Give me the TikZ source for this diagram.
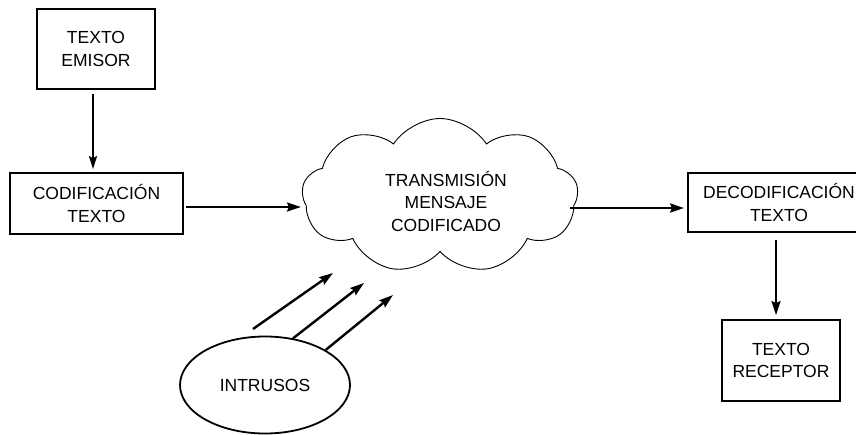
\documentclass[tikz,border=0pt]{standalone}
\usepackage{fontspec}
\setmainfont{Liberation Sans}
\usetikzlibrary{arrows.meta,shapes.geometric,shapes.symbols}
\begin{document}
\begin{tikzpicture}[x=1pt,y=-1pt,
  txt/.style={font=\fontsize{17.5}{22.5}\selectfont, align=center},
  boxnode/.style={txt, draw, line width=1.8pt, inner sep=0pt},
  arr/.style={line width=2.4pt, -{Stealth[length=14pt,width=9pt,inset=2pt]}},
  thinarr/.style={line width=1.7pt, -{Stealth[length=13pt,width=8pt,inset=2pt]}}]
\useasboundingbox (0,0) rectangle (856,434);
\clip (0,0) rectangle (856,434);
\node[boxnode, minimum width=118pt, minimum height=80pt] (emisor) at (96,49) {TEXTO\\EMISOR};
\node[boxnode, minimum width=173pt, minimum height=61pt] (cod) at (96.5,203.5) {CODIFICACIÓN\\TEXTO};
\node[draw, cloud, cloud puffs=9, cloud puff arc=115, cloud ignores aspect, line width=0.9pt,
      minimum width=276pt, minimum height=155pt, inner sep=0pt] (cloud) at (440,196) {};
\node[txt] (cloudtxt) at (446,201) {TRANSMISIÓN\\MENSAJE\\CODIFICADO};
\node[boxnode, minimum width=182pt, minimum height=59pt] (deco) at (779,202.5) {DECODIFICACIÓN\\TEXTO};
\node[boxnode, minimum width=118pt, minimum height=81pt] (recep) at (781,360.5) {TEXTO\\RECEPTOR};
\node[txt, draw, ellipse, line width=1.8pt, minimum width=170pt, minimum height=97pt, inner sep=0pt] (intr) at (265,385) {INTRUSOS};
\coordinate (a1s) at (253,329);
\coordinate (a1e) at (333,273);
\coordinate (a2e) at (364,283);
\coordinate (a3e) at (393,295);
% connectors
\draw[thinarr, shorten <=4pt, shorten >=3pt] ([xshift=-3pt]emisor.south) -- ([xshift=-3pt]emisor.south |- cod.north);
\draw[arr, shorten <=2pt, shorten >=1pt] ([yshift=-3.5pt]cod.east) -- ([yshift=-3.5pt]cod.east -| cloud.west);
\draw[arr, shorten >=3pt] ([yshift=-5.5pt]deco.west -| cloud.east) ++(-8pt,0) -- ([yshift=-5.5pt]deco.west);
\draw[arr, shorten <=7pt, shorten >=4pt] ([xshift=-3pt]deco.south) -- ([xshift=-3pt]deco.south |- recep.north);
\draw[arr] (a1s) -- (a1e);
\draw[arr] (intr.59) -- (a2e);
\draw[arr] (intr.30) -- (a3e);
\end{tikzpicture}
\end{document}
